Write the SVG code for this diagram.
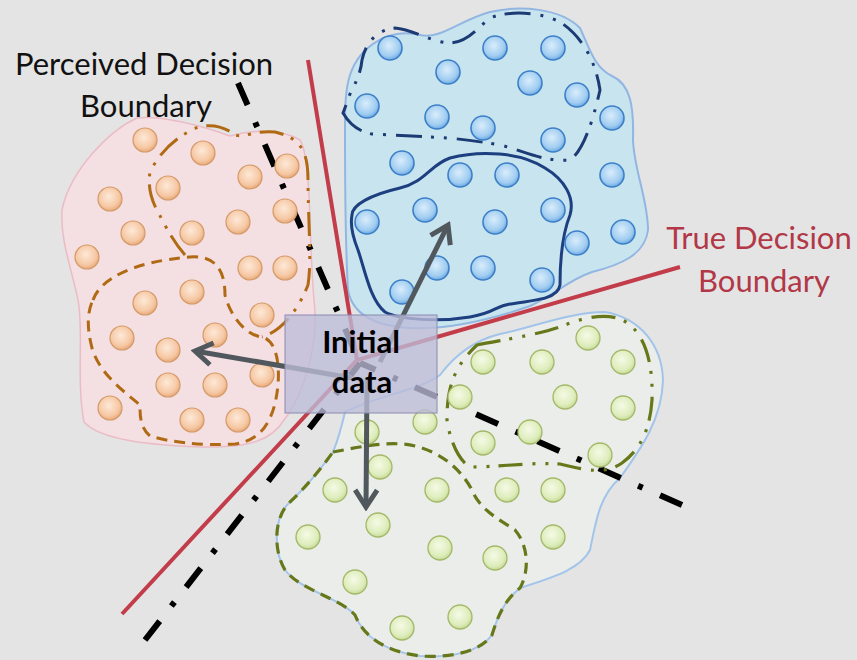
<svg xmlns="http://www.w3.org/2000/svg" width="857" height="660" viewBox="0 0 857 660">
  <defs>
    <radialGradient id="gOr" cx="0.45" cy="0.4" r="0.62">
      <stop offset="0" stop-color="#fde9d8"/>
      <stop offset="0.7" stop-color="#f6c8a4"/>
      <stop offset="1" stop-color="#e6a676"/>
    </radialGradient>
    <radialGradient id="gBl" cx="0.45" cy="0.4" r="0.62">
      <stop offset="0" stop-color="#d9edfb"/>
      <stop offset="0.7" stop-color="#a1cdf1"/>
      <stop offset="1" stop-color="#68a6e0"/>
    </radialGradient>
    <radialGradient id="gGr" cx="0.45" cy="0.4" r="0.62">
      <stop offset="0" stop-color="#f5fae6"/>
      <stop offset="0.7" stop-color="#deedbc"/>
      <stop offset="1" stop-color="#c4d894"/>
    </radialGradient>
    <marker id="chev" viewBox="-22 -14 26 28" refX="0" refY="0" markerWidth="26" markerHeight="28" markerUnits="userSpaceOnUse" orient="auto">
      <path d="M-17,-11 L0,0 L-17,11" fill="none" stroke="#50585e" stroke-width="5" stroke-linejoin="miter"/>
    </marker>
  </defs>
  <style>
    .blob-or { fill: #f4dfe2; stroke: #ebbcc6; stroke-width: 1.5; }
    .blob-bl { fill: #c8e5ef; stroke: #92b6e2; stroke-width: 2; }
    .blob-gr { fill: #eaede9; stroke: #a3c4ea; stroke-width: 2; }
    .c-or { fill: url(#gOr); stroke: #d49a68; stroke-width: 1.2; }
    .c-bl { fill: url(#gBl); stroke: #3c7fc8; stroke-width: 1.6; }
    .c-gr { fill: url(#gGr); stroke: #a4b868; stroke-width: 1.3; }
    .or-dash { fill: none; stroke: #b06a14; stroke-width: 3; stroke-dasharray: 11 7; }
    .or-dd { fill: none; stroke: #b06a14; stroke-width: 3; stroke-dasharray: 24 8 3 9 3 9; }
    .bl-dd { fill: none; stroke: #1c3a74; stroke-width: 3; stroke-dasharray: 26 9 3 10 3 10; }
    .bl-solid { fill: none; stroke: #1d3f80; stroke-width: 3; }
    .gr-dash { fill: none; stroke: #66781a; stroke-width: 3.2; stroke-dasharray: 11 7; }
    .gr-dd { fill: none; stroke: #66781a; stroke-width: 3.2; stroke-dasharray: 24 9 3 10 3 10; }
    .true-b { fill: none; stroke: #c23c4a; stroke-width: 4; }
    .perc-b { fill: none; stroke: #000; stroke-width: 6; stroke-dasharray: 24 19 5 19; }
    .arrow { fill: none; stroke: #50585e; stroke-width: 5; marker-end: url(#chev); }
    .lbl { font-family: Lato, "Open Sans", "Liberation Sans", sans-serif; font-size: 31px; text-anchor: middle; }
  </style>

  <rect width="857" height="660" fill="#e4e4e4"/>

  <!-- cluster regions -->
  <g id="cluster-orange-region">
    <path class="blob-or" d="M137,118 C160,115 200,125 230,136 C250,130 280,128 300,140 C312,160 308,230 314,300 C320,350 300,400 284,420 C272,440 250,448 200,447 C150,445 100,440 84,422 C76,380 84,330 78,300 C72,270 60,240 62,210 C70,170 110,130 137,118 Z"/>
  </g>
  <g id="cluster-blue-region">
    <path class="blob-bl" d="M350,75 C360,45 390,28 420,35 C440,40 460,20 490,12 C520,5 560,8 580,28 C590,50 595,68 612,76 C630,84 634,105 633,140 C634,170 648,200 648,230 C645,255 620,265 592,272 C568,280 555,295 530,306 C490,320 450,330 410,328 C372,326 352,312 348,290 C345,240 345,180 345,130 C345,110 345,90 350,75 Z"/>
  </g>
  <g id="cluster-green-region">
    <path class="blob-gr" d="M345,412 C380,395 420,390 440,375 C455,355 475,340 500,334 C530,328 570,312 605,312 C640,318 662,345 663,380 C662,420 640,450 620,478 C600,495 596,520 590,550 C580,570 550,578 520,588 C505,600 498,615 492,635 C480,652 450,658 420,656 C390,652 365,640 355,615 C340,598 300,590 285,570 C272,548 275,515 290,502 C305,488 320,470 333,452 C338,440 342,425 345,412 Z"/>
  </g>

  <!-- perceived (learned) decision boundary -->
  <g id="perceived-boundary">
    <path class="perc-b" d="M238,83 L360,363"/>
    <path class="perc-b" d="M682,505 L360,363"/>
    <path class="perc-b" d="M145,640 L360,363"/>
  </g>

  <!-- sub-cluster outlines -->
  <g id="orange-subclusters">
    <path class="or-dash" d="M93,300 C100,280 130,262 190,257 C215,255 225,270 225,295 C230,315 245,335 262,337 C275,340 280,360 278,385 C275,415 265,440 235,444 C200,446 170,442 150,436 C140,428 140,415 140,405 C125,392 100,375 92,348 C86,325 88,310 93,300 Z"/>
    <path class="or-dd" d="M185,255 C172,240 165,225 158,212 C150,198 148,185 150,172 C160,152 175,138 192,130 C205,122 225,126 235,135 C245,138 255,130 275,132 C300,138 308,150 308,180 C308,220 312,260 308,285 C300,305 285,330 262,337"/>
  </g>
  <g id="blue-subclusters">
    <path class="bl-dd" d="M343,113 C350,125 360,132 372,134 L430,137 C452,138 472,140 500,145 C522,150 542,162 570,160 C585,150 595,112 600,90 C596,62 582,36 560,22 C540,12 510,10 490,18 C475,30 468,42 450,43 C430,42 415,30 395,28 C375,30 365,45 362,60 C360,80 350,90 348,100 Z"/>
    <path class="bl-solid" d="M352,215 C352,205 370,195 400,188 C425,182 430,165 450,158 C480,150 520,152 545,168 C565,180 575,198 570,215 C562,235 560,260 560,285 C558,298 540,300 510,304 C495,306 495,313 470,317 C440,322 400,320 385,312 C370,300 365,270 358,250 C352,235 350,225 352,215 Z"/>
  </g>
  <g id="green-subclusters">
    <path class="gr-dash" d="M333,452 C360,447 390,440 415,446 C440,452 460,468 472,490 C480,510 500,520 515,530 C528,545 530,570 520,588 C505,600 498,615 492,635 C480,652 450,658 420,656 C390,652 365,640 355,615 C340,598 300,590 285,570 C272,548 275,515 290,502 C305,488 320,470 333,452 Z"/>
    <path class="gr-dd" d="M477,345 C500,340 540,335 565,325 C590,315 615,312 630,325 C648,340 653,370 652,400 C650,430 640,450 622,463 C605,475 585,470 560,464 C530,462 500,467 470,467 C458,460 450,440 447,420 C447,395 450,370 477,345 Z"/>
  </g>

  <!-- data points -->
  <g id="points-orange">
    <circle class="c-or" cx="145" cy="140" r="12"/>
    <circle class="c-or" cx="203" cy="153" r="12"/>
    <circle class="c-or" cx="250" cy="177" r="12"/>
    <circle class="c-or" cx="287" cy="166" r="12"/>
    <circle class="c-or" cx="168" cy="188" r="12"/>
    <circle class="c-or" cx="110" cy="199" r="12"/>
    <circle class="c-or" cx="285" cy="211" r="12"/>
    <circle class="c-or" cx="238" cy="222" r="12"/>
    <circle class="c-or" cx="133" cy="233" r="12"/>
    <circle class="c-or" cx="192" cy="233" r="12"/>
    <circle class="c-or" cx="87" cy="257" r="12"/>
    <circle class="c-or" cx="250" cy="268" r="12"/>
    <circle class="c-or" cx="285" cy="268" r="12"/>
    <circle class="c-or" cx="192" cy="292" r="12"/>
    <circle class="c-or" cx="145" cy="303" r="12"/>
    <circle class="c-or" cx="262" cy="315" r="12"/>
    <circle class="c-or" cx="122" cy="338" r="12"/>
    <circle class="c-or" cx="215" cy="335" r="12"/>
    <circle class="c-or" cx="168" cy="350" r="12"/>
    <circle class="c-or" cx="262" cy="375" r="12"/>
    <circle class="c-or" cx="168" cy="385" r="12"/>
    <circle class="c-or" cx="215" cy="385" r="12"/>
    <circle class="c-or" cx="110" cy="408" r="12"/>
    <circle class="c-or" cx="192" cy="420" r="12"/>
    <circle class="c-or" cx="238" cy="420" r="12"/>
  </g>
  <g id="points-blue">
    <circle class="c-bl" cx="390" cy="48" r="12"/>
    <circle class="c-bl" cx="495" cy="48" r="12"/>
    <circle class="c-bl" cx="553" cy="48" r="12"/>
    <circle class="c-bl" cx="448" cy="72" r="12"/>
    <circle class="c-bl" cx="530" cy="83" r="12"/>
    <circle class="c-bl" cx="577" cy="95" r="12"/>
    <circle class="c-bl" cx="367" cy="106" r="12"/>
    <circle class="c-bl" cx="437" cy="117" r="12"/>
    <circle class="c-bl" cx="483" cy="128" r="12"/>
    <circle class="c-bl" cx="612" cy="118" r="12"/>
    <circle class="c-bl" cx="553" cy="140" r="12"/>
    <circle class="c-bl" cx="402" cy="163" r="12"/>
    <circle class="c-bl" cx="460" cy="175" r="12"/>
    <circle class="c-bl" cx="507" cy="175" r="12"/>
    <circle class="c-bl" cx="612" cy="175" r="12"/>
    <circle class="c-bl" cx="425" cy="210" r="12"/>
    <circle class="c-bl" cx="553" cy="210" r="12"/>
    <circle class="c-bl" cx="367" cy="222" r="12"/>
    <circle class="c-bl" cx="495" cy="222" r="12"/>
    <circle class="c-bl" cx="623" cy="232" r="12"/>
    <circle class="c-bl" cx="577" cy="243" r="12"/>
    <circle class="c-bl" cx="437" cy="268" r="12"/>
    <circle class="c-bl" cx="483" cy="268" r="12"/>
    <circle class="c-bl" cx="542" cy="280" r="12"/>
    <circle class="c-bl" cx="402" cy="292" r="12"/>
  </g>
  <g id="points-green">
    <circle class="c-gr" cx="588" cy="338" r="12"/>
    <circle class="c-gr" cx="483" cy="362" r="12"/>
    <circle class="c-gr" cx="542" cy="362" r="12"/>
    <circle class="c-gr" cx="623" cy="362" r="12"/>
    <circle class="c-gr" cx="460" cy="397" r="12"/>
    <circle class="c-gr" cx="565" cy="397" r="12"/>
    <circle class="c-gr" cx="623" cy="408" r="12"/>
    <circle class="c-gr" cx="425" cy="422" r="12"/>
    <circle class="c-gr" cx="367" cy="432" r="12"/>
    <circle class="c-gr" cx="530" cy="432" r="12"/>
    <circle class="c-gr" cx="483" cy="443" r="12"/>
    <circle class="c-gr" cx="600" cy="455" r="12"/>
    <circle class="c-gr" cx="380" cy="467" r="12"/>
    <circle class="c-gr" cx="335" cy="490" r="12"/>
    <circle class="c-gr" cx="437" cy="490" r="12"/>
    <circle class="c-gr" cx="507" cy="490" r="12"/>
    <circle class="c-gr" cx="553" cy="490" r="12"/>
    <circle class="c-gr" cx="378" cy="525" r="12"/>
    <circle class="c-gr" cx="553" cy="537" r="12"/>
    <circle class="c-gr" cx="308" cy="537" r="12"/>
    <circle class="c-gr" cx="440" cy="548" r="12"/>
    <circle class="c-gr" cx="495" cy="558" r="12"/>
    <circle class="c-gr" cx="355" cy="582" r="12"/>
    <circle class="c-gr" cx="460" cy="617" r="12"/>
    <circle class="c-gr" cx="402" cy="628" r="12"/>
  </g>

  <!-- true decision boundary -->
  <g id="true-boundary">
    <path class="true-b" d="M308,60 L357,360"/>
    <path class="true-b" d="M680,267 L357,360 L122,614"/>
  </g>

  <!-- query arrows from the initial data -->
  <g id="connectors">
    <path class="arrow" d="M380,362 L448,225"/>
    <path class="arrow" d="M352,378 L195,351"/>
    <path class="arrow" d="M367,378 L366,507"/>
  </g>

  <g id="initial-data">
    <rect x="285" y="315" width="152" height="98" fill="#bdbdd8" fill-opacity="0.78" stroke="#8a8ab0" stroke-width="1"/>
    <text class="lbl" x="361" y="353" font-weight="bold">Initial</text>
    <text class="lbl" x="362" y="393" font-weight="bold">data</text>
  </g>

  <g id="label-perceived">
    <text class="lbl" x="144" y="75" fill="#111">Perceived Decision</text>
    <text class="lbl" x="146" y="117" fill="#111">Boundary</text>
  </g>
  <g id="label-true">
    <text class="lbl" x="759" y="249" fill="#b23848">True Decision</text>
    <text class="lbl" x="764" y="292" fill="#b23848">Boundary</text>
  </g>
</svg>
